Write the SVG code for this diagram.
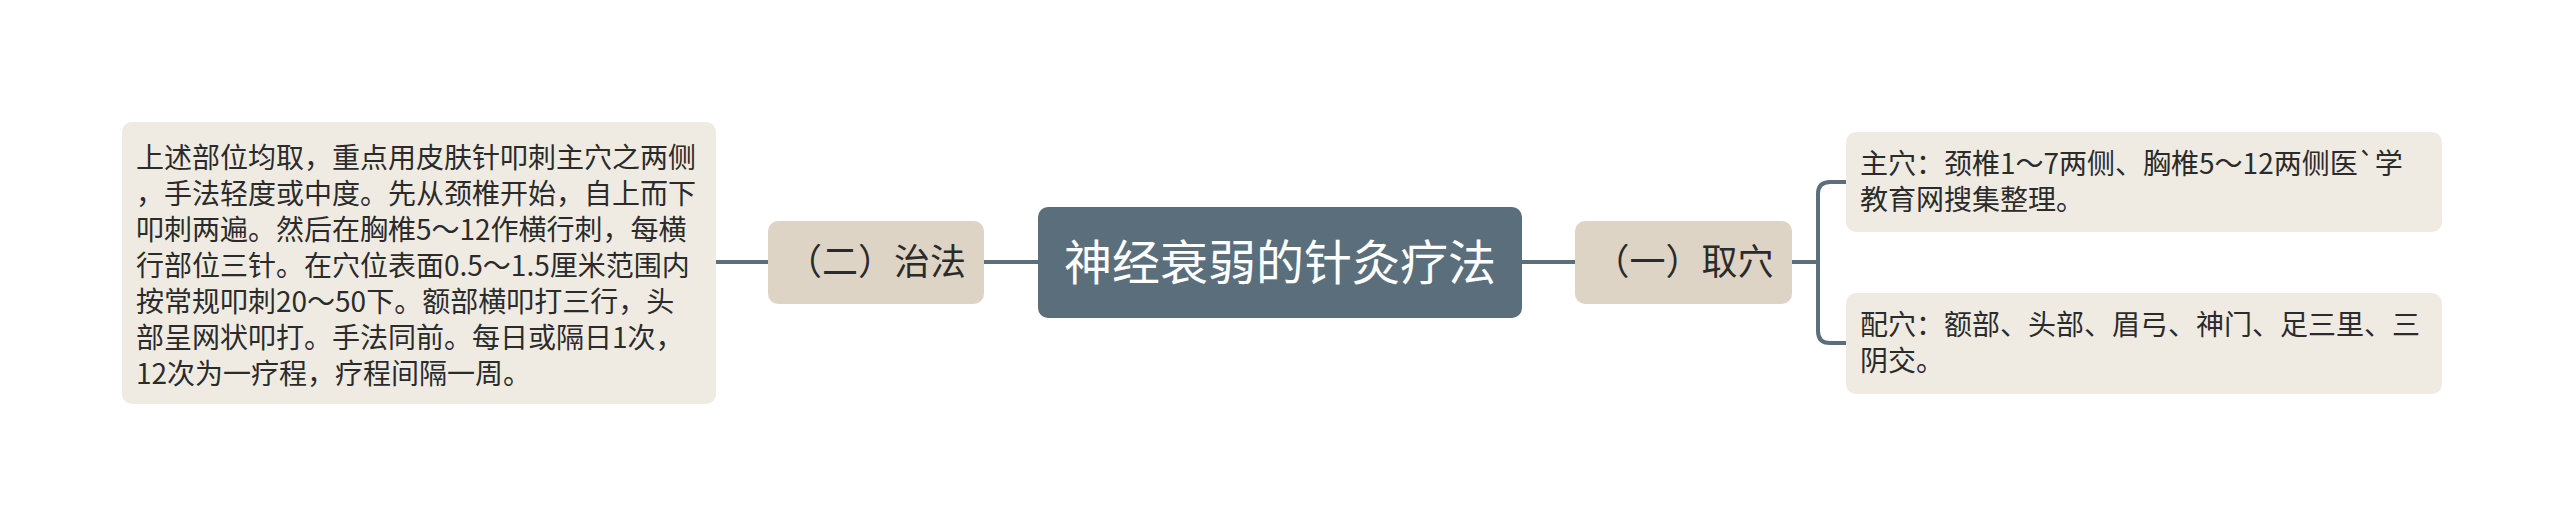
<svg xmlns="http://www.w3.org/2000/svg" width="2560" height="525" viewBox="0 0 2560 525">
<style>
.leaf{fill:#efebe3}
.mid{fill:#ded4c5}
.root{fill:#5b6e7b}
.t{font-family:"Noto Sans CJK SC","Noto Sans",sans-serif;fill:#2b2b2b}
.lt{font-size:28px}
.mt{font-size:36px;text-anchor:middle}
.rt{font-size:48px;text-anchor:middle;fill:#ffffff}
.c{fill:none;stroke:#5b6e7b;stroke-width:4}
</style>
<rect width="2560" height="525" fill="#ffffff"/>
<g id="connectors">
<path class="c" d="M716,262H768"/>
<path class="c" d="M984,262H1038"/>
<path class="c" d="M1522,262H1575"/>
<path class="c" d="M1792,262H1818"/>
<path class="c" d="M1846,182H1830Q1818,182 1818,194V331Q1818,343 1830,343H1846"/>
</g>
<g id="root">
<rect class="root" x="1038" y="207" width="484" height="111" rx="10"/>
<text class="t rt" x="1280" y="280">神经衰弱的针灸疗法</text>
</g>
<g id="n-zhifa">
<rect class="mid" x="768" y="221" width="216" height="83" rx="10"/>
<text class="t mt" x="876" y="275">（二）治法</text>
</g>
<g id="n-quxue">
<rect class="mid" x="1575" y="221" width="217" height="83" rx="10"/>
<text class="t mt" x="1683.5" y="275">（一）取穴</text>
</g>
<g id="leaf-zhifa">
<rect class="leaf" x="122" y="122" width="594" height="282" rx="10"/>
<text class="t lt" x="136" y="168">上述部位均取，重点用皮肤针叩刺主穴之两侧</text>
<text class="t lt" x="136" y="204">，手法轻度或中度。先从颈椎开始，自上而下</text>
<text class="t lt" x="136" y="240">叩刺两遍。然后在胸椎5～12作横行刺，每横</text>
<text class="t lt" x="136" y="276">行部位三针。在穴位表面0.5～1.5厘米范围内</text>
<text class="t lt" x="136" y="312">按常规叩刺20～50下。额部横叩打三行，头</text>
<text class="t lt" x="136" y="348">部呈网状叩打。手法同前。每日或隔日1次，</text>
<text class="t lt" x="136" y="384">12次为一疗程，疗程间隔一周。</text>
</g>
<g id="leaf-zhuxue">
<rect class="leaf" x="1846" y="132" width="596" height="100" rx="10"/>
<text class="t lt" x="1860" y="174">主穴：颈椎1～7两侧、胸椎5～12两侧医`学</text>
<text class="t lt" x="1860" y="210">教育网搜集整理。</text>
</g>
<g id="leaf-peixue">
<rect class="leaf" x="1846" y="293" width="596" height="101" rx="10"/>
<text class="t lt" x="1860" y="335">配穴：额部、头部、眉弓、神门、足三里、三</text>
<text class="t lt" x="1860" y="371">阴交。</text>
</g>
</svg>
